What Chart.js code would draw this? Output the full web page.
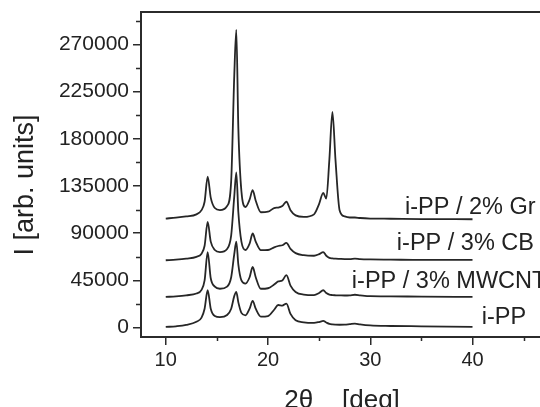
<!DOCTYPE html>
<html>
<head>
<meta charset="utf-8">
<script src="https://cdn.jsdelivr.net/npm/chart.js@4.4.0/dist/chart.umd.min.js"></script>
<style>
  html, body { margin: 0; padding: 0; background: #fff; overflow: hidden; }
  #xrdChart { display: block; }
</style>
</head>
<body>
<canvas id="xrdChart" width="540" height="407"></canvas>
<script>
// 2theta grid (deg), shared by all patterns
const twoTheta = [10, 11, 12, 13, 13.5, 13.8, 14.1, 14.4, 14.8, 15.3, 16.0, 16.4, 16.7, 16.9, 17.1, 17.4, 17.8, 18.2, 18.5, 18.8, 19.3, 20.0, 20.6, 21.0, 21.4, 21.8, 22.2, 22.7, 23.5, 24.5, 25.0, 25.4, 25.7, 26.0, 26.3, 26.6, 27.0, 27.5, 28.0, 28.5, 29.0, 30, 32, 35, 40];

// intensities (arb. units), curves already offset as in the figure
const ippValues   = [600, 1200, 2500, 5500, 9500, 18000, 35600, 18000, 11000, 10000, 12000, 18000, 30000, 34000, 24000, 14000, 11700, 18000, 25400, 18000, 10500, 11000, 17000, 21500, 21000, 22900, 13000, 7000, 5000, 4500, 5300, 6300, 4800, 3500, 3000, 2800, 2700, 2800, 3300, 3800, 3000, 2000, 1500, 1200, 700];
const mwcntValues = [29200, 29800, 30800, 32500, 36000, 45000, 72000, 47000, 39000, 37000, 39000, 48000, 70000, 82000, 60000, 45000, 42000, 48000, 57800, 48000, 37000, 37500, 41000, 44000, 45000, 50000, 40000, 34000, 31500, 31000, 33000, 35600, 33000, 31500, 31000, 30800, 30700, 30600, 30800, 31300, 30800, 30000, 29800, 29500, 29200];
const cbValues    = [64200, 64800, 65800, 67500, 70500, 78000, 100800, 82000, 74000, 72000, 75000, 88000, 125000, 148000, 110000, 82000, 74000, 80000, 89700, 82000, 73800, 74000, 76500, 77800, 78500, 80700, 75000, 71000, 69000, 68500, 70000, 72000, 68500, 66500, 66000, 65700, 65500, 65300, 65300, 65700, 65300, 65000, 64800, 64500, 64600];
const grValues    = [104000, 104800, 106000, 108000, 112000, 120000, 144000, 124000, 114000, 112000, 116000, 140000, 240000, 284000, 190000, 130000, 115000, 122000, 131000, 121000, 110000, 110500, 114000, 114500, 116000, 120000, 112000, 107000, 105500, 108000, 118000, 128500, 123000, 160000, 205700, 160000, 112000, 106000, 105000, 105000, 104500, 104000, 103800, 103500, 103300];

const seriesNames = ["i-PP", "i-PP / 3% MWCNT", "i-PP / 3% CB", "i-PP / 2% Gr"];

// ticks
const xMajorTicks = [10, 20, 30, 40];
const xMinorTicks = [15, 25, 35, 45];
const yMajorTicks = [0, 45000, 90000, 135000, 180000, 225000, 270000];
const yMinorTicks = [22500, 67500, 112500, 157500, 202500, 247500, 292500];

const AXIS = "#2b2b2b";
const LINE = "#262626";
const FONT = "'Liberation Sans', Arial, sans-serif";

// where each curve label starts (data units)
const labelAnchors = [
    { x: 40.9, y: 3800 },
    { x: 28.2, y: 37300 },
    { x: 32.6, y: 73600 },
    { x: 33.4, y: 108800 }
];

const decorPlugin = {
    id: "decor",
    afterDraw(chart) {
        const ctx = chart.ctx;
        const area = chart.chartArea;
        const xs = chart.scales.x;
        const ys = chart.scales.y;
        ctx.save();

        // top frame
        ctx.strokeStyle = AXIS;
        ctx.lineWidth = 2;
        ctx.beginPath();
        ctx.moveTo(area.left - 1, area.top);
        ctx.lineTo(area.right + 1, area.top);
        ctx.stroke();

        // minor ticks
        ctx.lineWidth = 1.5;
        ctx.beginPath();
        xMinorTicks.forEach(v => {
            const px = Math.round(xs.getPixelForValue(v)) + 0.5;
            ctx.moveTo(px, area.bottom);
            ctx.lineTo(px, area.bottom + 4);
        });
        yMinorTicks.forEach(v => {
            const py = Math.round(ys.getPixelForValue(v)) + 0.5;
            ctx.moveTo(area.left, py);
            ctx.lineTo(area.left - 5, py);
        });
        ctx.stroke();

        // curve labels
        ctx.fillStyle = "#222";
        ctx.font = "23.5px " + FONT;
        ctx.textAlign = "left";
        ctx.textBaseline = "alphabetic";
        seriesNames.forEach((name, i) => {
            const a = labelAnchors[i];
            ctx.fillText(name, xs.getPixelForValue(a.x), ys.getPixelForValue(a.y));
        });

        // axis titles
        ctx.font = "26px " + FONT;
        ctx.textAlign = "center";
        ctx.fillText("2\u03b8    [deg]", 342, 408);

        ctx.translate(26, 185);
        ctx.rotate(-Math.PI / 2);
        ctx.font = "27px " + FONT;
        ctx.textBaseline = "middle";
        ctx.fillText("I [arb. units]", 0, 0);
        ctx.restore();
    }
};

function lineSet(label, values) {
    return {
        label: label,
        data: values,
        borderColor: LINE,
        borderWidth: 1.8,
        pointRadius: 0,
        cubicInterpolationMode: "monotone",
        fill: false
    };
}

const ctx = document.getElementById("xrdChart").getContext("2d");

new Chart(ctx, {
    type: "line",
    data: {
        labels: twoTheta,
        datasets: [
            lineSet(seriesNames[0], ippValues.map((v, i) => ({ x: twoTheta[i], y: v }))),
            lineSet(seriesNames[1], mwcntValues.map((v, i) => ({ x: twoTheta[i], y: v }))),
            lineSet(seriesNames[2], cbValues.map((v, i) => ({ x: twoTheta[i], y: v }))),
            lineSet(seriesNames[3], grValues.map((v, i) => ({ x: twoTheta[i], y: v })))
        ]
    },
    options: {
        responsive: false,
        animation: false,
        layout: { padding: { top: 12, left: 0, right: 0, bottom: 0 } },
        plugins: {
            legend: { display: false },
            tooltip: { enabled: false }
        },
        scales: {
            x: {
                type: "linear",
                min: 7.58,
                max: 46.6,
                afterBuildTicks: s => { s.ticks = xMajorTicks.map(v => ({ value: v })); },
                afterFit: s => { s.height = 70; s.paddingLeft = 0; s.paddingRight = 0; },
                grid: { drawOnChartArea: false, drawTicks: true, tickLength: 8, color: AXIS, lineWidth: 1.5 },
                border: { display: true, color: AXIS, width: 2 },
                ticks: {
                    color: "#222",
                    padding: 3,
                    maxRotation: 0,
                    autoSkip: false,
                    font: { family: FONT, size: 20 },
                    callback: v => String(v)
                }
            },
            y: {
                type: "linear",
                min: -9000,
                max: 301000,
                afterBuildTicks: s => { s.ticks = yMajorTicks.map(v => ({ value: v })); },
                afterFit: s => { s.width = 141; s.paddingTop = 0; s.paddingBottom = 0; },
                grid: { drawOnChartArea: false, drawTicks: true, tickLength: 8, color: AXIS, lineWidth: 1.5 },
                border: { display: true, color: AXIS, width: 2 },
                ticks: {
                    color: "#222",
                    padding: 4,
                    autoSkip: false,
                    font: { family: FONT, size: 21 },
                    callback: v => String(v)
                }
            }
        }
    },
    plugins: [decorPlugin]
});
</script>
</body>
</html>
